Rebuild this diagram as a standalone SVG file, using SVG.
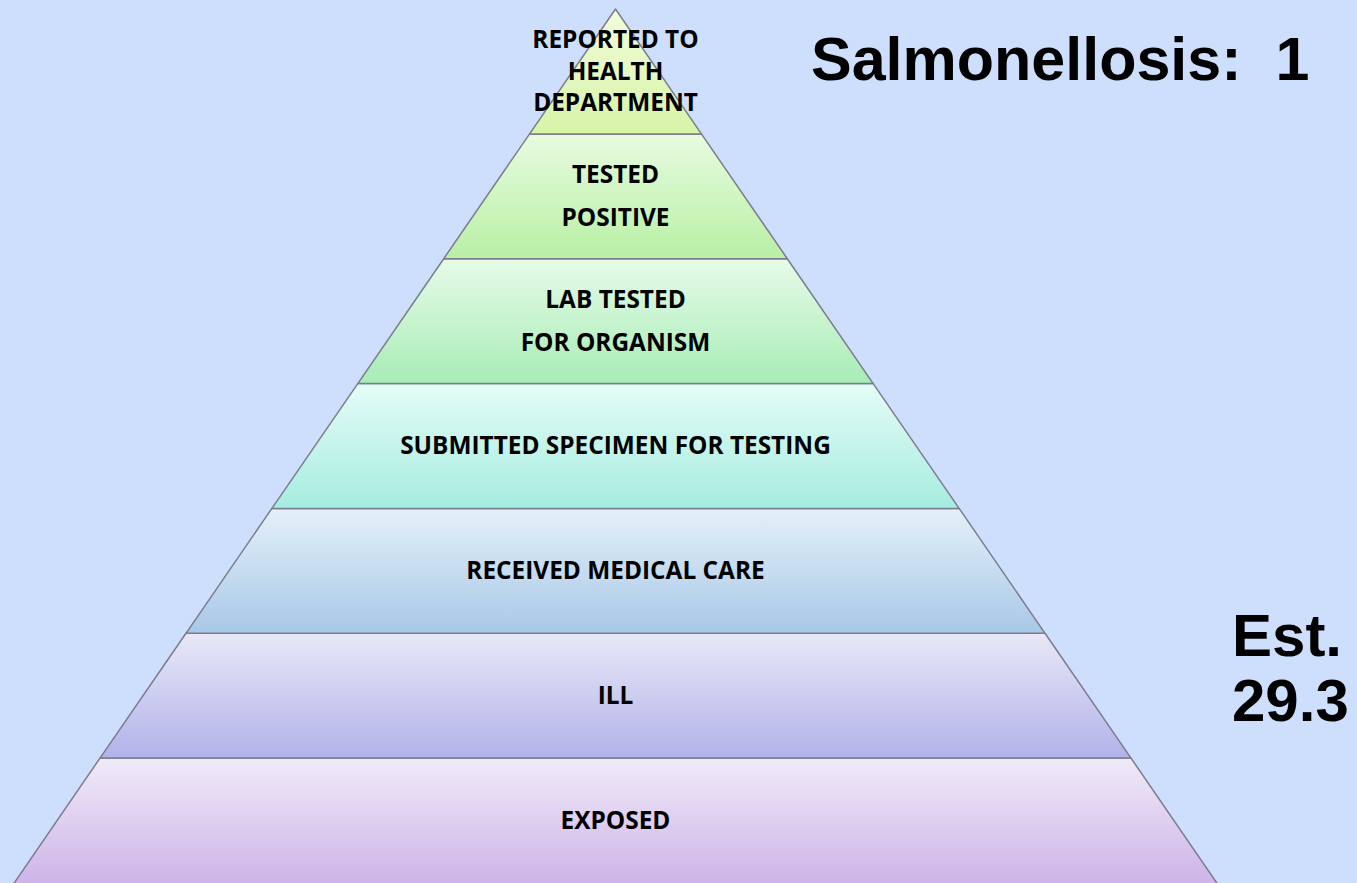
<svg xmlns="http://www.w3.org/2000/svg" width="1357" height="883" viewBox="0 0 1357 883">
<defs>
<linearGradient id="g1" x1="0" y1="0" x2="0" y2="1"><stop offset="0" stop-color="#f4fcdc"/><stop offset="1" stop-color="#d6f4a6"/></linearGradient>
<linearGradient id="g2" x1="0" y1="0" x2="0" y2="1"><stop offset="0" stop-color="#e8fbe0"/><stop offset="1" stop-color="#b8f0a4"/></linearGradient>
<linearGradient id="g3" x1="0" y1="0" x2="0" y2="1"><stop offset="0" stop-color="#e6fbe8"/><stop offset="1" stop-color="#a8ecb6"/></linearGradient>
<linearGradient id="g4" x1="0" y1="0" x2="0" y2="1"><stop offset="0" stop-color="#e4fcf6"/><stop offset="1" stop-color="#a6ece0"/></linearGradient>
<linearGradient id="g5" x1="0" y1="0" x2="0" y2="1"><stop offset="0" stop-color="#e4f0f8"/><stop offset="1" stop-color="#a8c8e8"/></linearGradient>
<linearGradient id="g6" x1="0" y1="0" x2="0" y2="1"><stop offset="0" stop-color="#e8e8f8"/><stop offset="1" stop-color="#b2b2ea"/></linearGradient>
<linearGradient id="g7" x1="0" y1="0" x2="0" y2="1"><stop offset="0" stop-color="#f0eaf8"/><stop offset="1" stop-color="#ceb4e8"/></linearGradient>
</defs>
<style>
.layer{stroke:#7c7c8c;stroke-width:1.5;stroke-linejoin:round}
.lbl{font-family:"Open Sans","DejaVu Sans",sans-serif;font-weight:bold;font-size:24.4px;fill:#000;text-anchor:middle}
.big{font-family:"Liberation Sans",Arial,sans-serif;font-weight:bold;font-size:60px;fill:#000;white-space:pre}
</style>
<rect width="1357" height="883" fill="#cddffd"/>
<g id="connectors"/>
<g id="layer-exposed">
<polygon class="layer" fill="url(#g7)" points="100,758.1 1131,758.1 1217.5,884 13.5,884"/>
<text class="lbl" x="615.5" y="829">EXPOSED</text>
</g>
<g id="layer-ill">
<polygon class="layer" fill="url(#g6)" points="186,633.3 1045,633.3 1131,758.1 100,758.1"/>
<text class="lbl" x="615.5" y="704">ILL</text>
</g>
<g id="layer-received">
<polygon class="layer" fill="url(#g5)" points="271.9,508.4 959.1,508.4 1045,633.3 186,633.3"/>
<text class="lbl" x="615.5" y="579">RECEIVED MEDICAL CARE</text>
</g>
<g id="layer-submitted">
<polygon class="layer" fill="url(#g4)" points="357.8,383.6 873.2,383.6 959.1,508.4 271.9,508.4"/>
<text class="lbl" x="615.5" y="454">SUBMITTED SPECIMEN FOR TESTING</text>
</g>
<g id="layer-lab">
<polygon class="layer" fill="url(#g3)" points="443.7,258.7 787.3,258.7 873.2,383.6 357.8,383.6"/>
<text class="lbl" x="615.5" y="308">LAB TESTED</text>
<text class="lbl" x="615.5" y="351">FOR ORGANISM</text>
</g>
<g id="layer-tested">
<polygon class="layer" fill="url(#g2)" points="529.6,133.9 701.4,133.9 787.3,258.7 443.7,258.7"/>
<text class="lbl" x="615.5" y="183">TESTED</text>
<text class="lbl" x="615.5" y="226">POSITIVE</text>
</g>
<g id="layer-reported">
<polygon class="layer" fill="url(#g1)" points="615.5,9 701.4,133.9 529.6,133.9"/>
<text class="lbl" x="615.5" y="48">REPORTED TO</text>
<text class="lbl" x="615.5" y="80">HEALTH</text>
<text class="lbl" x="615.5" y="111">DEPARTMENT</text>
</g>
<g id="title">
<text class="big" x="811" y="80" xml:space="preserve" style="font-size:61px">Salmonellosis:  1</text>
</g>
<g id="estimate">
<text class="big" x="1232" y="656">Est.</text>
<text class="big" x="1232" y="721">29.3</text>
</g>
</svg>
